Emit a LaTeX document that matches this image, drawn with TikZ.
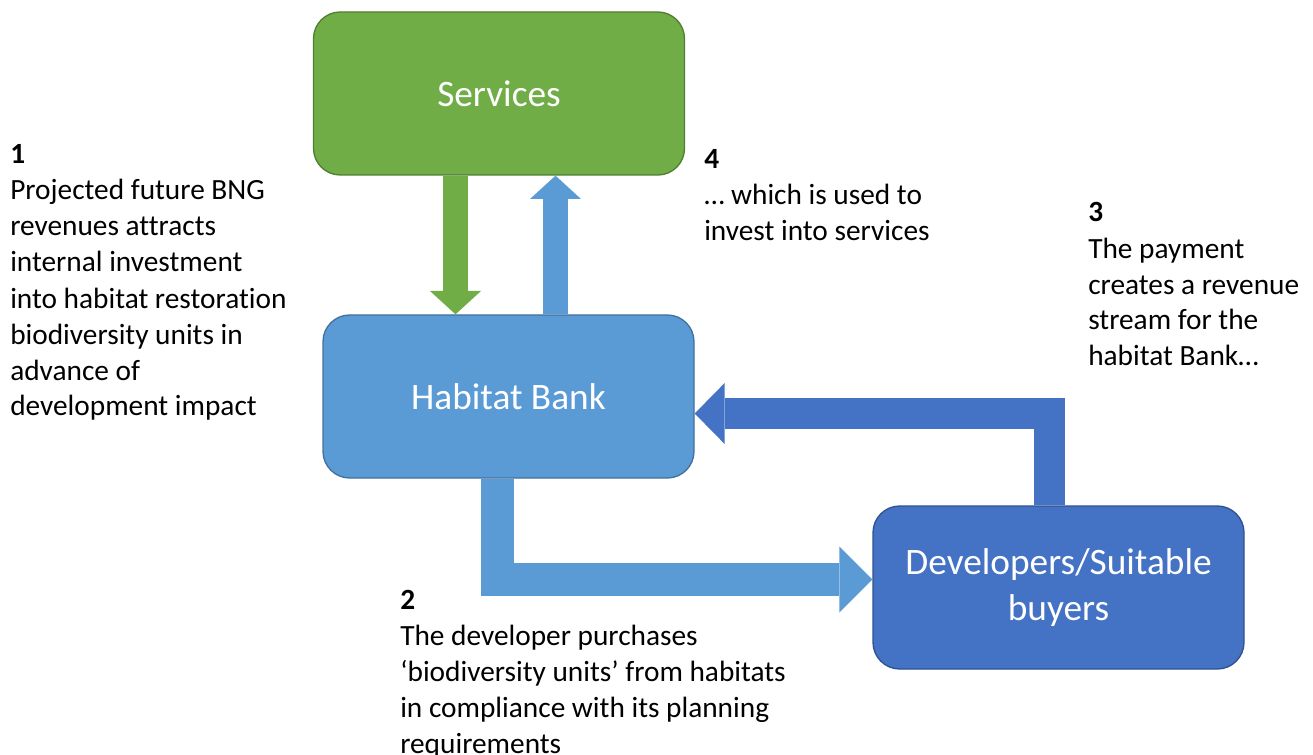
\documentclass[tikz,border=0pt]{standalone}
\usepackage{fontspec}
\setmainfont{Carlito}[Ligatures=NoCommon]
\usetikzlibrary{arrows.meta,backgrounds}

\definecolor{svcfill}{HTML}{70AD47}
\definecolor{svcline}{HTML}{507E32}
\definecolor{bankfill}{HTML}{5B9BD5}
\definecolor{bankline}{HTML}{41719C}
\definecolor{devfill}{HTML}{4472C4}
\definecolor{devline}{HTML}{2F528F}

\begin{document}
\begin{tikzpicture}[x=0.75pt,y=-0.75pt,
  box/.style={rectangle, rounded corners=20pt, minimum width=278.25pt,
    minimum height=122.25pt, line width=1pt, text=white, align=center,
    inner sep=0pt, font=\fontsize{28}{34}\selectfont},
  % notes are placed by the baseline of their last line
  note/.style={anchor=base west, align=left, inner sep=0pt,
    font=\fontsize{22}{27}\selectfont},
  flow/.style={line cap=butt, line join=miter},
  thinflow/.style={flow, line width=18.75pt,
    -{Triangle[width=38.25pt,length=17.5pt,line width=0pt]}},
  loopflowA/.style={flow, line width=24.75pt,
    -{Triangle[width=49.5pt,length=24.75pt,line width=0pt]}},
  loopflowB/.style={flow, line width=23.25pt,
    -{Triangle[width=45.75pt,length=22.5pt,line width=0pt]}}]

\useasboundingbox (0,0) rectangle (1313,755);

% the three parties
\node[box, fill=svcfill, draw=svcline] (srv) at (499,93.5) {Services};
\node[box, fill=bankfill, draw=bankline] (bank) at (508.5,396.5) {Habitat Bank};
\node[box, fill=devfill, draw=devline] (dev) at (1058.5,587.5) {Developers/Suitable\\buyers};

% guide coordinates for the arrow axes
\coordinate (gx) at (455.5,0);
\coordinate (ux) at (555.5,0);
\coordinate (bx) at (497.5,0);
\coordinate (by) at (0,579.5);
\coordinate (rx) at (1049.5,0);
\coordinate (ry) at (0,413.5);

% block arrows behind the boxes
\begin{scope}[on background layer]
  \draw[thinflow, svcfill] (srv.south -| gx) -- (bank.north -| gx);
  \draw[thinflow, bankfill] (bank.north -| ux) -- (srv.south -| ux);
  \draw[loopflowA, bankfill] (bank.south -| bx) |- (dev.west |- by);
  \draw[loopflowB, devfill] (dev.north -| rx) |- (bank.east |- ry);
\end{scope}

% step descriptions
\node[note] (n1) at (10,416) {\textbf{1}\\Projected future BNG\\revenues attracts\\internal investment\\into habitat restoration\\biodiversity units in\\advance of\\development impact};
\node[note] (n4) at (704,241) {\textbf{4}\\… which is used to\\invest into services};
\node[note] (n3) at (1088,366) {\textbf{3}\\The payment\\creates a revenue\\stream for the\\habitat Bank…};
\node[note] (n2) at (400,753) {\textbf{2}\\The developer purchases\\‘biodiversity units’ from habitats\\in compliance with its planning\\requirements};

\end{tikzpicture}
\end{document}
